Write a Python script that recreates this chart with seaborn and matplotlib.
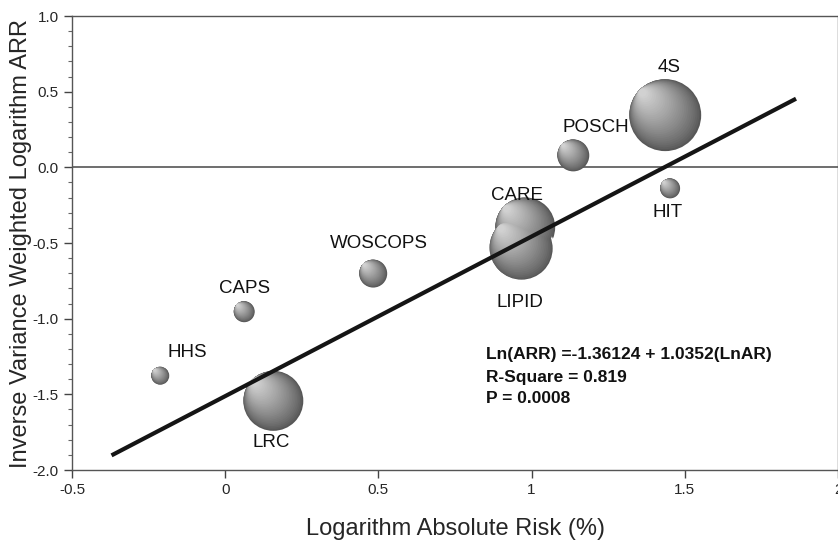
import numpy as np
import pandas as pd
import seaborn as sns
from matplotlib import pyplot as plt
from matplotlib.transforms import ScaledTranslation

# Trial data
trials = ['4S', 'POSCH', 'HIT', 'CARE', 'LIPID', 'WOSCOPS', 'CAPS', 'HHS', 'LRC']
log_ar = [1.436, 1.136, 1.452, 0.979, 0.966, 0.483, 0.062, -0.212, 0.157]
log_arr = [0.345, 0.079, -0.139, -0.397, -0.536, -0.702, -0.954, -1.377, -1.543]
bubble_r = [36, 16, 10, 30, 32, 14, 10.5, 9, 30]  # radius in pixels

# label positions
label_x = [1.449, 1.208, 1.443, 0.953, 0.963, 0.503, 0.062, -0.124, 0.150]
label_y = [0.662, 0.265, -0.298, -0.185, -0.894, -0.503, -0.801, -1.225, -1.821]

# drawn regression line
line_x = [-0.371, 1.863]
intercept, slope = -1.512, 1.055

df = pd.DataFrame({'trial': trials, 'x': log_ar, 'y': log_arr, 'r': bubble_r})

sns.set_style('ticks')
plt.rcParams['font.family'] = ['Liberation Sans', 'DejaVu Sans']

fig = plt.figure(figsize=(8.38, 5.47), dpi=100)
ax = fig.add_axes([72 / 838, 77 / 547, 766 / 838, 454 / 547])

# shaded spheres: stacked circles drifting toward the upper-left highlight
n_layers = 30
for _, row in df.iterrows():
    r_pt = row['r'] * 0.72
    for k in range(n_layers):
        f = 1 - 0.92 * k / n_layers
        shift = (1 - f) * 0.7 * r_pt / 72
        tr = ax.transData + ScaledTranslation(-shift, shift, fig.dpi_scale_trans)
        g = 0.34 + 0.48 * (k / (n_layers - 1)) ** 0.8
        edge = 'white' if (row['trial'] == 'LIPID' and k == 0) else 'none'
        ax.scatter([row['x']], [row['y']], s=(2 * r_pt * f) ** 2,
                   color=(g, g, g), edgecolor=edge, linewidth=1.2,
                   transform=tr, zorder=3 + 0.01 * k)

for t, lx, ly in zip(trials, label_x, label_y):
    ax.text(lx, ly, t, ha='center', va='center', fontsize=13.5, color='#111111', zorder=6)

ax.axhline(0, color='#555555', lw=1.2, zorder=2)
xs = np.array(line_x)
ax.plot(xs, intercept + slope * xs, color='#151515', lw=3.0, solid_capstyle='butt', zorder=5)

ax.text(0.852, -1.238, 'Ln(ARR) =-1.36124 + 1.0352(LnAR)', fontsize=12.5, fontweight='bold',
        va='center', color='#111111')
ax.text(0.852, -1.391, 'R-Square = 0.819', fontsize=12.5, fontweight='bold', va='center', color='#111111')
ax.text(0.852, -1.530, 'P = 0.0008', fontsize=12.5, fontweight='bold', va='center', color='#111111')

ax.set_xlim(-0.5, 2.0)
ax.set_ylim(-2.0, 1.0)
ax.set_xticks([-0.5, 0, 0.5, 1, 1.5, 2])
ax.set_xticklabels(['-0.5', '0', '0.5', '1', '1.5', '2'])
ax.set_yticks([-2.0, -1.5, -1.0, -0.5, 0.0, 0.5, 1.0])
ax.set_yticklabels(['-2.0', '-1.5', '-1.0', '-0.5', '0.0', '0.5', '1.0'])
ax.set_yticks(np.arange(-2.0, 1.001, 0.1), minor=True)
ax.tick_params(axis='both', which='major', labelsize=11, length=6, width=1, color='#444444')
ax.tick_params(axis='y', which='minor', length=3, width=0.8, color='#666666')
for s in ax.spines.values():
    s.set_color('#555555')
    s.set_linewidth(1)
    s.set_visible(True)

ax.set_xlabel('Logarithm Absolute Risk (%)', fontsize=17, labelpad=15)
ax.set_ylabel('Inverse Variance Weighted Logarithm ARR', fontsize=17)
ax.yaxis.set_label_coords(-0.052, 0.5)

fig.savefig('out.png', dpi=100)
